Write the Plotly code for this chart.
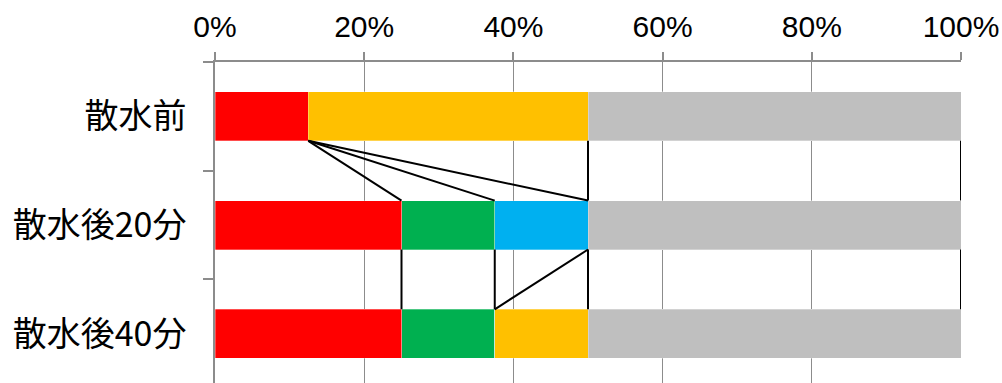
import plotly.graph_objects as go

# Categories (top to bottom) and share of each class, in percent
categories = ["散水前", "散水後20分", "散水後40分"]
series_names = ["赤", "緑", "青", "黄", "灰"]
red_vals = [12.5, 25.0, 25.0]
green_vals = [0.0, 12.5, 12.5]
blue_vals = [0.0, 12.5, 0.0]
orange_vals = [37.5, 0.0, 12.5]
gray_vals = [50.0, 50.0, 50.0]
x_ticks = [0, 20, 40, 60, 80, 100]

series_vals = [red_vals, green_vals, blue_vals, orange_vals, gray_vals]
series_colors = ["#FF0000", "#00B050", "#00B0F0", "#FFC000", "#BFBFBF"]

BAR_GAP = 0.55
AXIS_GRAY = "#8C8C8C"

fig = go.Figure()

for name, vals, color in zip(series_names, series_vals, series_colors):
    fig.add_trace(go.Bar(
        y=categories, x=vals, name=name, orientation="h",
        marker=dict(color=color, line=dict(color="rgba(255,255,255,0.6)", width=0.5)),
        showlegend=False, hoverinfo="skip",
    ))

# Series lines: connect the end of each series between neighbouring bars
half = (1 - BAR_GAP) / 2
cum = []
running = [0.0] * len(categories)
for vals in series_vals:
    running = [r + v for r, v in zip(running, vals)]
    cum.append(list(running))

for ends in cum:
    for i in range(len(categories) - 1):
        fig.add_trace(go.Scatter(
            x=[ends[i], ends[i + 1]], y=[i + half, i + 1 - half],
            mode="lines", line=dict(color="black", width=2),
            yaxis="y2", showlegend=False, hoverinfo="skip",
        ))

y_range = [2.453, -0.5]

fig.update_layout(
    width=1002, height=383,
    margin=dict(l=215, r=41, t=62, b=0),
    paper_bgcolor="white", plot_bgcolor="white",
    barmode="stack", bargap=BAR_GAP,
    xaxis=dict(
        side="top", range=[0, 100], tickvals=x_ticks,
        ticktext=[f"{v}%" for v in x_ticks],
        showgrid=True, gridcolor=AXIS_GRAY, gridwidth=1.3,
        zeroline=False, showline=True, linecolor=AXIS_GRAY, linewidth=1.5,
        ticks="outside", ticklen=8, tickcolor=AXIS_GRAY, tickwidth=1.5,
        tickfont=dict(family="Liberation Sans, Arial", size=30, color="black"),
        ticklabelstandoff=3, fixedrange=True,
    ),
    yaxis=dict(
        type="category", categoryorder="array", categoryarray=categories,
        range=y_range, tickson="boundaries",
        showgrid=False, zeroline=False,
        showline=True, linecolor=AXIS_GRAY, linewidth=1.5,
        ticks="outside", ticklen=10, tickcolor=AXIS_GRAY, tickwidth=1.5,
        tickfont=dict(family="Noto Sans CJK JP", size=34, color="black"),
        ticklabelstandoff=20, fixedrange=True,
    ),
    yaxis2=dict(
        overlaying="y", range=y_range, visible=False, fixedrange=True,
    ),
)

fig.write_html("out.html")
